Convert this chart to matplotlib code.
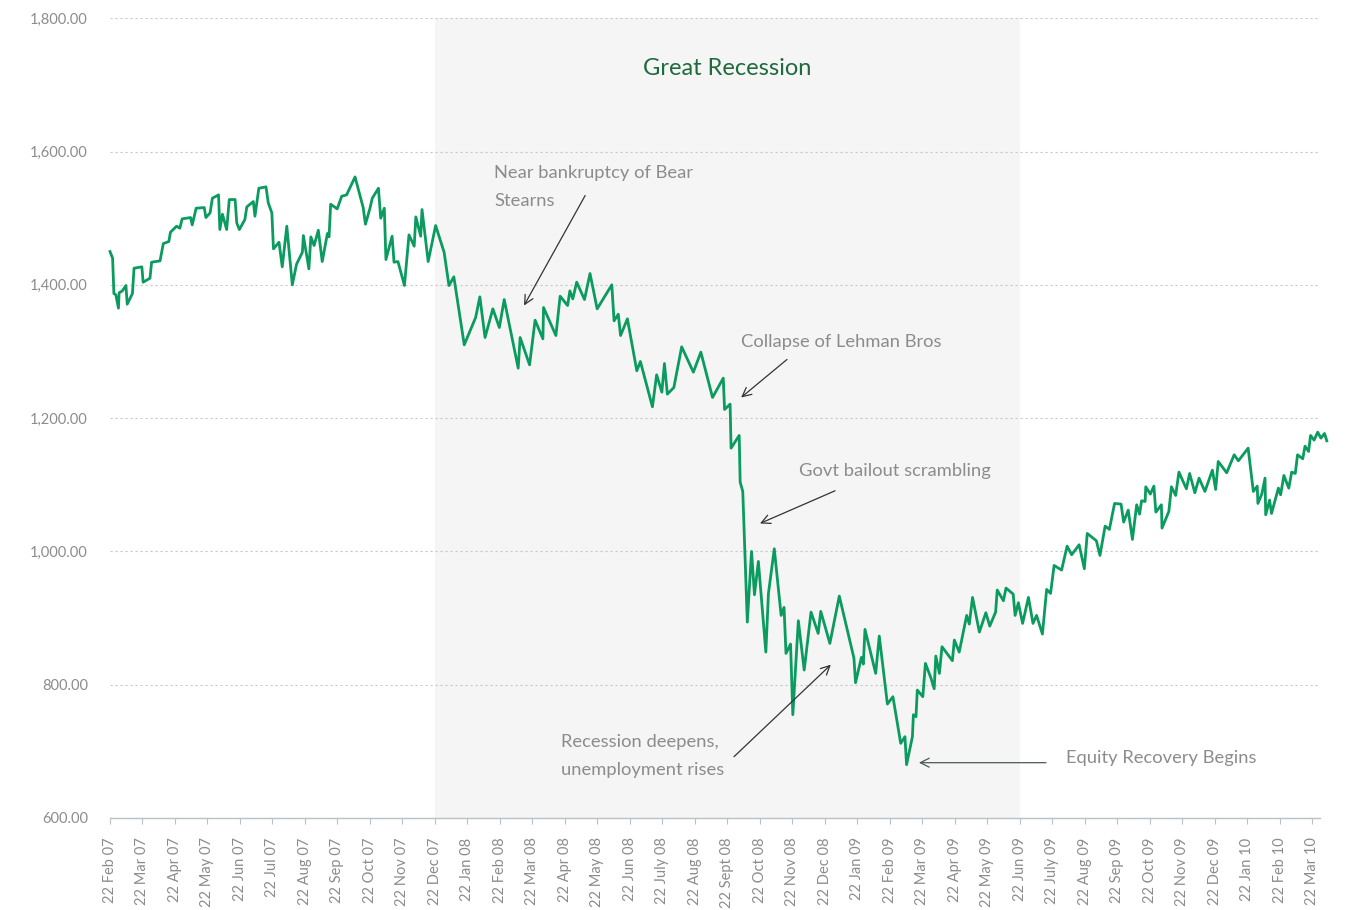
import matplotlib.pyplot as plt
from matplotlib.ticker import FuncFormatter

# months after 22 Feb 07 (one tick per month) and index level
months = [0.00, 0.08, 0.12, 0.18, 0.26, 0.28, 0.38, 0.49, 0.53, 0.69,
          0.74, 0.98, 1.02, 1.23, 1.28, 1.54, 1.64, 1.81, 1.86, 2.05,
          2.15, 2.22, 2.48, 2.53, 2.65, 2.90, 2.95, 3.08, 3.15, 3.34,
          3.38, 3.46, 3.59, 3.67, 3.85, 3.90, 3.98, 4.15, 4.21, 4.41,
          4.46, 4.58, 4.80, 4.87, 4.98, 5.03, 5.20, 5.30, 5.44, 5.61,
          5.74, 5.92, 5.95, 6.12, 6.18, 6.28, 6.41, 6.53, 6.69, 6.74,
          6.79, 6.99, 7.13, 7.28, 7.54, 7.79, 7.86, 8.00, 8.07, 8.26,
          8.33, 8.44, 8.49, 8.68, 8.74, 8.86, 9.06, 9.20, 9.36, 9.41,
          9.56, 9.60, 9.79, 10.02, 10.28, 10.43, 10.58, 10.90, 11.25, 11.38,
          11.54, 11.78, 11.98, 12.13, 12.56, 12.62, 12.91, 13.08, 13.32, 13.34,
          13.72, 13.85, 14.08, 14.15, 14.24, 14.36, 14.60, 14.77, 14.99, 15.44,
          15.51, 15.64, 15.71, 15.92, 16.21, 16.32, 16.69, 16.82, 16.98, 17.06,
          17.15, 17.35, 17.59, 17.95, 18.18, 18.54, 18.87, 18.91, 19.08, 19.11,
          19.36, 19.39, 19.47, 19.61, 19.74, 19.83, 19.95, 20.18, 20.26, 20.44,
          20.65, 20.74, 20.80, 20.94, 21.01, 21.18, 21.36, 21.57, 21.79, 21.87,
          22.15, 22.44, 22.89, 22.94, 23.12, 23.18, 23.23, 23.56, 23.67, 23.92,
          24.09, 24.33, 24.46, 24.51, 24.69, 24.72, 24.80, 24.84, 25.01, 25.09,
          25.26, 25.36, 25.41, 25.52, 25.60, 25.92, 25.98, 26.13, 26.36, 26.44,
          26.54, 26.75, 26.95, 27.07, 27.25, 27.30, 27.49, 27.57, 27.79, 27.85,
          27.95, 28.08, 28.26, 28.40, 28.51, 28.69, 28.82, 28.94, 29.05, 29.28,
          29.45, 29.59, 29.82, 29.98, 30.07, 30.35, 30.46, 30.62, 30.75, 30.91,
          31.11, 31.19, 31.33, 31.46, 31.59, 31.68, 31.74, 31.85, 31.87, 32.01,
          32.12, 32.18, 32.35, 32.37, 32.58, 32.66, 32.79, 32.89, 33.12, 33.22,
          33.38, 33.51, 33.69, 33.92, 34.02, 34.10, 34.36, 34.59, 34.72, 35.02,
          35.18, 35.30, 35.32, 35.44, 35.54, 35.56, 35.68, 35.74, 35.95, 36.02,
          36.12, 36.27, 36.36, 36.47, 36.54, 36.70, 36.77, 36.88, 36.94, 37.05,
          37.16, 37.26, 37.37, 37.44]

closes = [1450, 1440, 1387, 1385, 1365, 1388, 1391, 1399, 1371, 1387,
          1425, 1427, 1404, 1410, 1434, 1436, 1462, 1465, 1479, 1488,
          1485, 1499, 1501, 1490, 1515, 1516, 1501, 1508, 1530, 1535,
          1483, 1506, 1483, 1528, 1528, 1493, 1483, 1498, 1517, 1525,
          1503, 1545, 1547, 1523, 1508, 1454, 1464, 1427, 1488, 1400,
          1431, 1449, 1474, 1424, 1472, 1459, 1482, 1435, 1477, 1472,
          1521, 1514, 1533, 1535, 1562, 1516, 1491, 1515, 1530, 1545,
          1500, 1515, 1438, 1473, 1434, 1435, 1399, 1475, 1458, 1502,
          1473, 1513, 1435, 1489, 1449, 1399, 1412, 1310, 1351, 1382,
          1321, 1364, 1336, 1378, 1275, 1321, 1280, 1347, 1319, 1366,
          1324, 1383, 1369, 1391, 1379, 1404, 1378, 1417, 1364, 1400,
          1346, 1356, 1324, 1349, 1271, 1285, 1217, 1265, 1239, 1282,
          1236, 1246, 1307, 1269, 1299, 1231, 1260, 1213, 1221, 1155,
          1174, 1104, 1090, 894, 1000, 935, 985, 849, 937, 1004,
          904, 916, 847, 861, 755, 896, 822, 909, 877, 910,
          862, 933, 840, 803, 841, 831, 883, 817, 873, 771,
          782, 712, 722, 680, 722, 755, 752, 792, 782, 832,
          810, 794, 843, 817, 857, 836, 867, 849, 904, 891,
          931, 879, 908, 888, 909, 942, 926, 945, 936, 904,
          923, 892, 931, 892, 904, 876, 943, 937, 979, 972,
          1008, 995, 1010, 974, 1027, 1016, 994, 1038, 1033, 1072,
          1071, 1044, 1062, 1018, 1070, 1056, 1076, 1075, 1097, 1086,
          1098, 1059, 1070, 1035, 1060, 1097, 1084, 1119, 1094, 1117,
          1088, 1110, 1090, 1122, 1093, 1135, 1118, 1145, 1136, 1155,
          1090, 1098, 1072, 1086, 1110, 1055, 1077, 1057, 1095, 1085,
          1114, 1095, 1119, 1117, 1145, 1139, 1158, 1150, 1174, 1167,
          1179, 1170, 1177, 1166]

tickLabels = ["22 Feb 07", "22 Mar 07", "22 Apr 07", "22 May 07", "22 Jun 07",
              "22 Jul 07", "22 Aug 07", "22 Sep 07", "22 Oct 07", "22 Nov 07",
              "22 Dec 07", "22 Jan 08", "22 Feb 08", "22 Mar 08", "22 Apr 08",
              "22 May 08", "22 Jun 08", "22 July 08", "22 Aug 08", "22 Sept 08",
              "22 Oct 08", "22 Nov 08", "22 Dec 08", "22 Jan 09", "22 Feb 09",
              "22 Mar 09", "22 Apr 09", "22 May 09", "22 Jun 09", "22 July 09",
              "22 Aug 09", "22 Sep 09", "22 Oct 09", "22 Nov 09", "22 Dec 09",
              "22 Jan 10", "22 Feb 10", "22 Mar 10"]

yTicks = [600, 800, 1000, 1200, 1400, 1600, 1800]

# Great Recession: 22 Dec 07 to 22 Jun 09
recessionStart = 10
recessionEnd = 28

textGrey = '#8c8c8c'
arrowGrey = '#333333'

plt.rcParams['font.family'] = ['Lato', 'DejaVu Sans']

fig = plt.figure(figsize=(13.48, 9.10), dpi=100)
ax = fig.add_axes([0.0816, 0.1011, 0.8976, 0.8788])

ax.axvspan(recessionStart, recessionEnd, color='#f5f5f5', lw=0, zorder=0.2)
ax.plot(months, closes, color='#0b9b5f', lw=2.0, zorder=3, clip_on=False)

ax.set_xlim(0, 37.23)
ax.set_ylim(600, 1800)
ax.set_yticks(yTicks)
ax.yaxis.set_major_formatter(FuncFormatter(lambda v, pos: "{:,.2f}".format(v)))
ax.set_xticks(range(len(tickLabels)))
ax.set_xticklabels(tickLabels, rotation=90)

ax.set_axisbelow(True)
ax.grid(axis='y', color='#c8c8c8', linestyle=(0, (2, 2.5)), lw=0.8)
ax.grid(axis='x', visible=False)
for side in ['top', 'right', 'left']:
    ax.spines[side].set_visible(False)
ax.spines['bottom'].set_color('#b8c0c8')
ax.spines['bottom'].set_linewidth(1.0)

ax.tick_params(axis='y', length=0, pad=16, labelcolor=textGrey, labelsize=10.5)
ax.tick_params(axis='x', length=4, width=0.8, color='#b8c0c8', pad=10,
               labelcolor=textGrey, labelsize=10.5)

ax.text(19.0, 1725, "Great Recession", ha='center', va='center',
        fontsize=17, color='#1f6b3e')

# annotations
def note(lines, x, ys):
    for line, y in zip(lines, ys):
        ax.text(x, y, line, ha='left', va='center', fontsize=13.2, color=textGrey)

def arrow(tail, head, color=arrowGrey):
    ax.annotate('', xy=head, xytext=tail,
                arrowprops=dict(arrowstyle='->', color=color, lw=0.9,
                                shrinkA=0, shrinkB=0, mutation_scale=16))

note(["Near bankruptcy of Bear", "Stearns"], 11.82, [1568, 1526])
arrow((14.62, 1534), (12.74, 1369))

note(["Collapse of Lehman Bros"], 19.42, [1314])
arrow((20.83, 1288), (19.42, 1231))

note(["Govt bailout scrambling"], 21.2, [1120])
arrow((22.31, 1091), (20.0, 1042))

note(["Recession deepens,", "unemployment rises"], 13.88, [714, 672])
arrow((19.2, 692), (22.18, 830))

note(["Equity Recovery Begins"], 29.42, [690])
arrow((28.8, 683), (24.89, 683), color='#4a5a55')

plt.savefig("out.png", dpi=100)
